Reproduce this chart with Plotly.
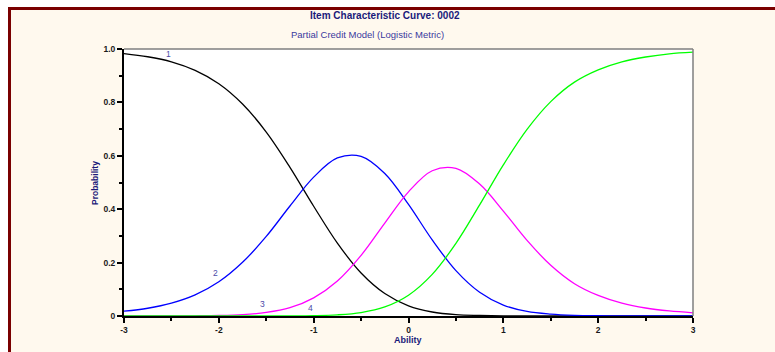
import plotly.graph_objects as go

# ---------------- data ----------------
ability = [-3.0, -2.75, -2.5, -2.25, -2.0, -1.75, -1.5, -1.25, -1.0, -0.75, -0.5, -0.25,
           0.0, 0.25, 0.5, 0.75, 1.0, 1.25, 1.5, 1.75, 2.0, 2.25, 2.5, 2.75, 3.0]

cat1 = [0.983, 0.971, 0.952, 0.920, 0.870, 0.794, 0.689, 0.557, 0.411, 0.273, 0.161, 0.084,
        0.038, 0.015, 0.005, 0.002, 0.0004, 0.0001, 0.0, 0.0, 0.0, 0.0, 0.0, 0.0, 0.0]
cat2 = [0.018, 0.029, 0.048, 0.079, 0.128, 0.201, 0.298, 0.412, 0.520, 0.592, 0.598, 0.534,
        0.418, 0.285, 0.170, 0.089, 0.041, 0.017, 0.007, 0.0025, 0.0009, 0.0003, 0.0001, 0.0, 0.0]
cat3 = [0.0, 0.0001, 0.0002, 0.0007, 0.0019, 0.0052, 0.0132, 0.031, 0.068, 0.131, 0.227, 0.348,
        0.465, 0.544, 0.553, 0.494, 0.393, 0.283, 0.190, 0.121, 0.077, 0.048, 0.030, 0.019, 0.012]
cat4 = [0.0, 0.0, 0.0, 0.0, 0.0, 0.0, 0.0001, 0.0004, 0.0013, 0.0044, 0.013, 0.034,
        0.078, 0.156, 0.272, 0.416, 0.566, 0.699, 0.803, 0.876, 0.922, 0.952, 0.970, 0.982, 0.988]

category_names = ["1", "2", "3", "4"]
series_colors = ["#000000", "#0000FF", "#FF00FF", "#00FF00"]

x_tickvals = [-3, -2, -1, 0, 1, 2, 3]
x_ticktext = ["-3", "-2", "-1", "0", "1", "2", "3"]
y_tickvals = [0, 0.2, 0.4, 0.6, 0.8, 1.0]
y_ticktext = ["0", "0.2", "0.4", "0.6", "0.8", "1.0"]

title_text = "Item Characteristic Curve: 0002"
subtitle_text = "Partial Credit Model (Logistic Metric)"
x_title = "Ability"
y_title = "Probability"

# ---------------- layout geometry ----------------
W, H = 775, 352
L, R, T, B = 124, 82, 49, 36
PW = W - L - R
PH = H - T - B


def px(x):
    return (x - L) / PW


def py(y):
    return (H - B - y) / PH


FONT = "Liberation Sans, Arial, sans-serif"
CREAM = "#FFF9EE"
NAVY = "#1A1A7A"
LABEL_BLUE = "#4B4BA8"

fig = go.Figure()
for name, vals, col in zip(category_names, [cat1, cat2, cat3, cat4], series_colors):
    fig.add_trace(go.Scatter(x=ability, y=vals, mode="lines", name=name,
                             line=dict(color=col, width=1.3, shape="spline", smoothing=1),
                             showlegend=False, hoverinfo="x+y"))

axis_common = dict(showgrid=False, zeroline=False, showline=True, linecolor="#000000",
                   linewidth=2, ticks="outside", ticklen=5, tickwidth=2, tickcolor="#000000",
                   tickfont=dict(family=FONT, size=8.5, color="#1A1A1A", weight="bold"),
                   fixedrange=True)

fig.update_xaxes(range=[-3, 3], tickvals=x_tickvals, ticktext=x_ticktext,
                 minor=dict(ticks="outside", ticklen=3, tickwidth=1.5, tickcolor="#000000", dtick=0.5),
                 **axis_common)
fig.update_yaxes(range=[0, 1], tickvals=y_tickvals, ticktext=y_ticktext,
                 minor=dict(ticks="outside", ticklen=3, tickwidth=1.5, tickcolor="#000000", dtick=0.1),
                 **axis_common)

shapes = [
    # white strips outside the dark-red frame
    dict(type="rect", xref="paper", yref="paper", x0=px(-20), x1=px(8), y0=py(H + 20), y1=py(-20),
         fillcolor="#FFFFFF", line=dict(width=0), layer="below"),
    dict(type="rect", xref="paper", yref="paper", x0=px(-20), x1=px(W + 20), y0=py(7), y1=py(-20),
         fillcolor="#FFFFFF", line=dict(width=0), layer="below"),
    # frame lines
    dict(type="line", xref="paper", yref="paper", x0=px(9.5), x1=px(9.5), y0=py(7), y1=py(H + 20),
         line=dict(color="#7A0000", width=3)),
    dict(type="line", xref="paper", yref="paper", x0=px(8), x1=px(W + 20), y0=py(8.5), y1=py(8.5),
         line=dict(color="#7A0000", width=3)),
    # gray top / right border of plot area
    dict(type="line", xref="paper", yref="paper", x0=0, x1=1, y0=1, y1=1,
         line=dict(color="#7F7F7F", width=1.5)),
    dict(type="line", xref="paper", yref="paper", x0=1, x1=1, y0=0, y1=1,
         line=dict(color="#7F7F7F", width=1.5)),
]

annotations = [
    dict(text=title_text, xref="paper", yref="paper", x=px(384.5), y=py(16), showarrow=False,
         xanchor="center", yanchor="middle",
         font=dict(family=FONT, size=10, color=NAVY, weight="bold")),
    dict(text=subtitle_text, xref="paper", yref="paper", x=px(367), y=py(34), showarrow=False,
         xanchor="center", yanchor="middle",
         font=dict(family=FONT, size=9.5, color="#3A3A9E")),
    dict(text=x_title, xref="paper", yref="paper", x=px(408), y=py(340), showarrow=False,
         xanchor="center", yanchor="middle",
         font=dict(family=FONT, size=9, color=NAVY, weight="bold")),
    dict(text=y_title, xref="paper", yref="paper", x=px(95), y=py(183), showarrow=False,
         xanchor="center", yanchor="middle", textangle=-90,
         font=dict(family=FONT, size=8.5, color=NAVY, weight="bold")),
    # curve labels
    dict(text=category_names[0], x=-2.53, y=0.98, showarrow=False,
         font=dict(family=FONT, size=8.5, color=LABEL_BLUE)),
    dict(text=category_names[1], x=-2.03, y=0.162, showarrow=False,
         font=dict(family=FONT, size=8.5, color=LABEL_BLUE)),
    dict(text=category_names[2], x=-1.535, y=0.046, showarrow=False,
         font=dict(family=FONT, size=8.5, color=LABEL_BLUE)),
    dict(text=category_names[3], x=-1.03, y=0.031, showarrow=False,
         font=dict(family=FONT, size=8.5, color=LABEL_BLUE)),
]

fig.update_layout(width=W, height=H, margin=dict(l=L, r=R, t=T, b=B, pad=0),
                  paper_bgcolor=CREAM, plot_bgcolor="#FFFFFF",
                  shapes=shapes, annotations=annotations, showlegend=False,
                  font=dict(family=FONT))

fig.write_html("out.html", config={"displayModeBar": False})
